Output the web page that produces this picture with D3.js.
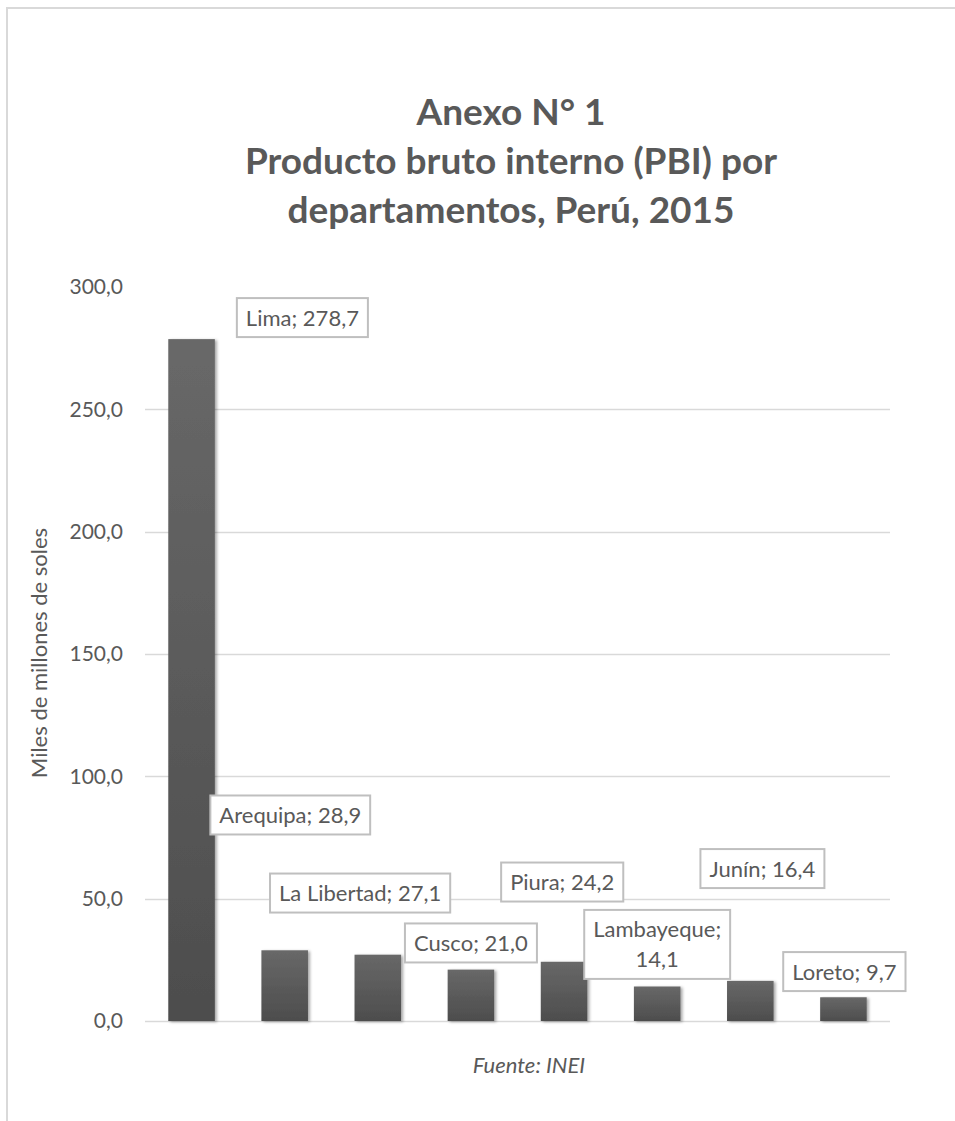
<!DOCTYPE html>
<html>
<head>
<meta charset="utf-8">
<script src="https://cdn.jsdelivr.net/npm/d3@7"></script>
<style>
  html, body { margin: 0; padding: 0; background: #ffffff; }
  svg { display: block; }
</style>
</head>
<body>
<svg id="chart" width="955" height="1121"></svg>
<script>
// ---------- data ----------
const categories = ["Lima", "Arequipa", "La Libertad", "Cusco", "Piura", "Lambayeque", "Junín", "Loreto"];
const values = [278.7, 28.9, 27.1, 21.0, 24.2, 14.1, 16.4, 9.7];
const yTicks = [0, 50, 100, 150, 200, 250, 300];
const titleLines = ["Anexo N° 1", "Producto bruto interno (PBI) por", "departamentos, Perú, 2015"];
const yAxisTitle = "Miles de millones de soles";
const sourceNote = "Fuente: INEI";
// label placement (dragged labels): horizontal offset in band steps, vertical anchor in data units
const labelDx = [1.19, 0.06, -0.19, 0.0, -0.02, 0.0, 0.13, 0.01];
const labelAt = [287.5, 84.2, 52.3, 31.9, 56.8, 31.3, 62.3, 20.2];
const labelLines = [["Lima; 278,7"], ["Arequipa; 28,9"], ["La Libertad; 27,1"], ["Cusco; 21,0"],
                    ["Piura; 24,2"], ["Lambayeque;", "14,1"], ["Junín; 16,4"], ["Loreto; 9,7"]];

// ---------- layout ----------
const W = 955, H = 1121;
const plot = { left: 145, right: 890, top: 287, bottom: 1021 };
const FONT = "Lato, 'Open Sans', sans-serif";
const TXT = "#595959";

const svg = d3.select("#chart");

const defs = svg.append("defs");
const grad = defs.append("linearGradient").attr("id", "barGrad")
  .attr("x1", 0).attr("y1", 0).attr("x2", 0).attr("y2", 1);
grad.append("stop").attr("offset", "0%").attr("stop-color", "#686868");
grad.append("stop").attr("offset", "100%").attr("stop-color", "#4d4d4d");
const f = defs.append("filter").attr("id", "shadow")
  .attr("x", "-20%").attr("y", "-5%").attr("width", "150%").attr("height", "115%");
f.append("feDropShadow").attr("dx", 2).attr("dy", 1).attr("stdDeviation", 1.6)
  .attr("flood-color", "#000").attr("flood-opacity", 0.35);

// outer frame
svg.append("rect").attr("x", 7).attr("y", 8).attr("width", W + 20).attr("height", H + 20)
  .attr("fill", "#ffffff").attr("stroke", "#d9d9d9").attr("stroke-width", 2);

// scales
const x = d3.scaleBand().domain(categories).range([plot.left, plot.right])
  .paddingInner(0.5).paddingOuter(0.25);
const y = d3.scaleLinear().domain([0, 300]).range([plot.bottom, plot.top]);

// gridlines (no line at the top value)
svg.append("g").selectAll("line").data(yTicks.filter(t => t < 300)).join("line")
  .attr("x1", plot.left).attr("x2", plot.right)
  .attr("y1", d => Math.round(y(d)) + 0.5).attr("y2", d => Math.round(y(d)) + 0.5)
  .attr("stroke", "#d9d9d9").attr("stroke-width", 1.3);

// y axis tick labels via d3 axis
const fmt = d => d3.format(".1f")(d).replace(".", ",");
const yAxis = svg.append("g").attr("transform", `translate(${plot.left},0)`)
  .call(d3.axisLeft(y).tickValues(yTicks).tickFormat(fmt).tickSize(0).tickPadding(22));
yAxis.select(".domain").remove();
yAxis.selectAll("text").attr("font-family", FONT).attr("font-size", 21).attr("fill", TXT);

// bars
const data = categories.map((c, i) => ({ c, v: values[i], i }));
svg.append("g").selectAll("rect").data(data).join("rect")
  .attr("x", d => x(d.c)).attr("width", x.bandwidth())
  .attr("y", d => y(d.v)).attr("height", d => y(0) - y(d.v))
  .attr("fill", "url(#barGrad)").attr("filter", "url(#shadow)");

// data labels
const step = x.step();
const lg = svg.append("g").selectAll("g").data(data).join("g")
  .attr("transform", d => `translate(${x(d.c) + x.bandwidth() / 2 + labelDx[d.i] * step},${y(labelAt[d.i])})`);
const lineH = 30;
lg.each(function (d) {
  const g = d3.select(this);
  const lines = labelLines[d.i];
  const rect = g.append("rect").attr("fill", "#ffffff").attr("stroke", "#bfbfbf").attr("stroke-width", 2);
  const t = g.append("text").attr("font-family", FONT).attr("font-size", 22).attr("fill", TXT)
    .attr("text-anchor", "middle");
  const n = lines.length;
  lines.forEach((s, k) => {
    t.append("tspan").attr("x", 0).attr("y", (k - (n - 1) / 2) * lineH + 8).text(s);
  });
  const bw = t.node().getBBox().width + 18;
  const bh = n * lineH + 9;
  rect.attr("x", -bw / 2).attr("y", -bh / 2).attr("width", bw).attr("height", bh);
});

// title
svg.append("g").selectAll("text").data(titleLines).join("text")
  .attr("x", 511).attr("y", (d, i) => 125 + i * 49)
  .attr("text-anchor", "middle").attr("font-family", FONT).attr("font-weight", "bold")
  .attr("font-size", 37).attr("fill", TXT).text(d => d);

// y axis title
svg.append("text").attr("transform", "translate(47,653) rotate(-90)")
  .attr("text-anchor", "middle").attr("font-family", FONT).attr("font-size", 22)
  .attr("fill", TXT).text(yAxisTitle);

// source
svg.append("text").attr("x", 529).attr("y", 1073).attr("text-anchor", "middle")
  .attr("font-family", FONT).attr("font-style", "italic").attr("font-size", 22)
  .attr("fill", TXT).text(sourceNote);
</script>
</body>
</html>
